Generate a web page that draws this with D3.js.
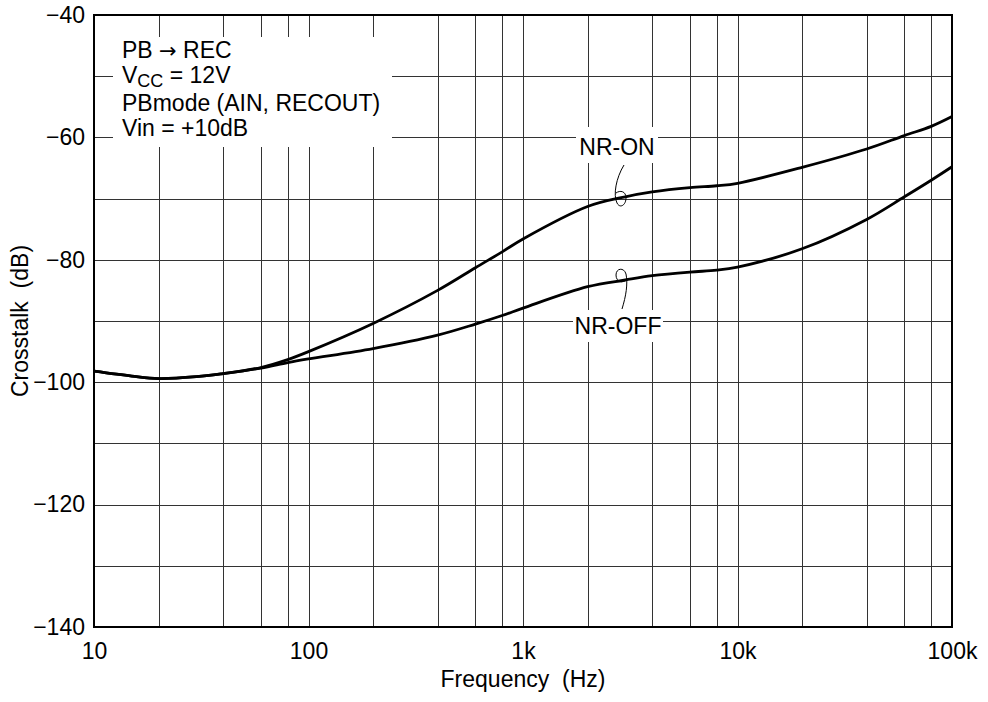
<!DOCTYPE html>
<html>
<head>
<meta charset="utf-8">
<script src="https://cdn.jsdelivr.net/npm/d3@7"></script>
<style>
  html, body { margin: 0; padding: 0; background: #fff; }
  svg { display: block; }
  text { font-family: "Liberation Sans", Arial, Helvetica, sans-serif; fill: #000; }
</style>
</head>
<body>
<svg id="chart" width="988" height="702"></svg>
<script>
// ---- data ----
const freqs = [10, 15, 20, 30, 40, 60, 80, 100, 200, 400, 600, 800, 1000, 2000, 3000, 4000, 6000, 8000, 10000, 20000, 40000, 60000, 80000, 100000];
const nrOn  = [-98.2, -99.0, -99.4, -99.1, -98.6, -97.6, -96.3, -95.0, -90.4, -85.0, -81.3, -78.7, -76.6, -71.3, -69.7, -68.9, -68.2, -67.9, -67.5, -64.9, -61.9, -59.7, -58.2, -56.6];
const nrOff = [-98.2, -99.0, -99.4, -99.1, -98.6, -97.7, -96.8, -96.2, -94.5, -92.3, -90.5, -89.1, -87.9, -84.4, -83.3, -82.6, -82.0, -81.7, -81.2, -78.2, -73.4, -69.7, -67.0, -64.8];
const xTickValues = [10, 100, 1000, 10000, 100000];
const xTickLabels = ["10", "100", "1k", "10k", "100k"];
const xGridValues = [20, 40, 60, 80, 100, 200, 400, 600, 800, 1000, 2000, 4000, 6000, 8000, 10000, 20000, 40000, 60000, 80000];
const yTickValues = [-140, -120, -100, -80, -60, -40];
const yGridValues = [-130, -120, -110, -100, -90, -80, -70, -60, -50];
const noteLines = ["PB \u2192 REC", "VCC", "PBmode (AIN, RECOUT)", "Vin = +10dB"];
const seriesLabels = ["NR-ON", "NR-OFF"];
const xTitle = "Frequency  (Hz)";
const yTitle = "Crosstalk  (dB)";

// ---- layout ----
const L = 94, R = 952, T = 15, B = 627;
const svg = d3.select("#chart");
const x = d3.scaleLog().domain([10, 100000]).range([L, R]);
const y = d3.scaleLinear().domain([-140, -40]).range([B, T]);
const FS = 23;

// grid
const grid = svg.append("g").attr("stroke", "#333").attr("stroke-width", 1).attr("shape-rendering", "crispEdges");
grid.selectAll("line.v").data(xGridValues).join("line")
  .attr("x1", d => Math.round(x(d)) + 0.5).attr("x2", d => Math.round(x(d)) + 0.5)
  .attr("y1", T).attr("y2", B);
grid.selectAll("line.h").data(yGridValues).join("line")
  .attr("y1", d => Math.round(y(d)) + 0.5).attr("y2", d => Math.round(y(d)) + 0.5)
  .attr("x1", L).attr("x2", R);

// white boxes behind annotations
svg.append("rect").attr("x", 113).attr("y", 37).attr("width", 279).attr("height", 110).attr("fill", "#fff");
svg.append("rect").attr("x", 576).attr("y", 127).attr("width", 82).attr("height", 36).attr("fill", "#fff");
svg.append("rect").attr("x", 573).attr("y", 310).attr("width", 90).attr("height", 32).attr("fill", "#fff");

// curves
const line = d3.line().x(d => x(d[0])).y(d => y(d[1])).curve(d3.curveCatmullRom.alpha(0.5));
[nrOn, nrOff].forEach(vals => {
  svg.append("path")
    .datum(freqs.map((f, i) => [f, vals[i]]))
    .attr("d", line)
    .attr("fill", "none")
    .attr("stroke", "#000")
    .attr("stroke-width", 2.8)
    .attr("stroke-linejoin", "round");
});

// frame
svg.append("rect").attr("x", L).attr("y", T).attr("width", R - L).attr("height", B - T)
  .attr("fill", "none").attr("stroke", "#000").attr("stroke-width", 2);

// axes
const xAxis = d3.axisBottom(x).tickValues(xTickValues)
  .tickFormat((d, i) => xTickLabels[i]).tickSize(0).tickPadding(16);
const gx = svg.append("g").attr("transform", `translate(0,${B})`).call(xAxis);
gx.select(".domain").remove();
gx.selectAll("text").attr("font-size", FS).attr("font-family", "Liberation Sans, Arial, sans-serif");

const yAxis = d3.axisLeft(y).tickValues(yTickValues).tickSize(0).tickPadding(9)
  .tickFormat(d3.format("d"));
const gy = svg.append("g").attr("transform", `translate(${L},0)`).call(yAxis);
gy.select(".domain").remove();
gy.selectAll("text").attr("font-size", FS).attr("font-family", "Liberation Sans, Arial, sans-serif");

// axis titles
svg.append("text").attr("x", (L + R) / 2).attr("y", 687).attr("text-anchor", "middle")
  .attr("font-size", FS).style("white-space", "pre").text(xTitle);
svg.append("text").attr("transform", `translate(28,${(T + B) / 2}) rotate(-90)`)
  .attr("text-anchor", "middle").attr("font-size", FS).style("white-space", "pre").text(yTitle);

// note
const note = svg.append("g").attr("font-size", FS);
const parts = noteLines[0].split("\u2192");
const l1 = note.append("text").attr("x", 122).attr("y", 58).style("white-space", "pre");
l1.append("tspan").text(parts[0]);
l1.append("tspan").attr("font-family", "DejaVu Sans").attr("font-size", 21).text("\u2192");
l1.append("tspan").text(parts[1]);
const vcc = note.append("text").attr("x", 122).attr("y", 83);
vcc.append("tspan").text("V");
vcc.append("tspan").attr("font-size", 18).attr("dy", 4).text("CC");
vcc.append("tspan").attr("dy", -4).text(" = 12V");
note.append("text").attr("x", 122).attr("y", 111).text(noteLines[2]);
note.append("text").attr("x", 122).attr("y", 136).text(noteLines[3]);

// series labels
svg.append("text").attr("x", 617).attr("y", 155).attr("text-anchor", "middle").attr("font-size", FS).text(seriesLabels[0]);
svg.append("text").attr("x", 618).attr("y", 334).attr("text-anchor", "middle").attr("font-size", FS).text(seriesLabels[1]);

// leaders
svg.append("path")
  .attr("d", "M624,165 C616,178 613,195 617,203 C620,209 626,205 626,198 C626,191 620,190 616,193")
  .attr("fill", "none").attr("stroke", "#000").attr("stroke-width", 1);
svg.append("path")
  .attr("d", "M622,309 C626,296 628,284 626,274 C624,267 616,268 616,275 C616,282 623,284 627,279")
  .attr("fill", "none").attr("stroke", "#000").attr("stroke-width", 1);
</script>
</body>
</html>
